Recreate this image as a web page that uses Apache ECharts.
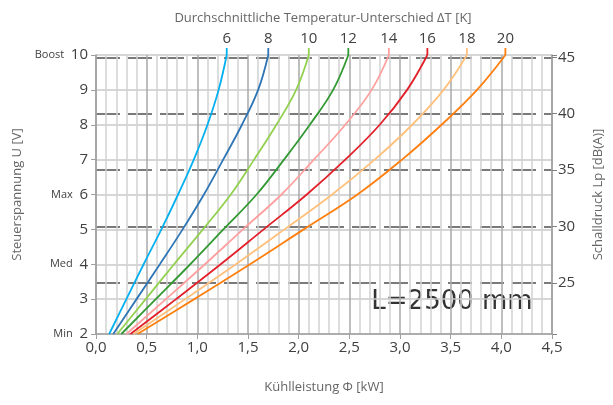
<!DOCTYPE html>
<html>
<head>
<meta charset="utf-8">
<script src="https://cdn.jsdelivr.net/npm/echarts@6/dist/echarts.min.js"></script>
<style>
    html, body {margin: 0; padding: 0; background: #fff;}
    #chart {width: 613px; height: 405px;}
</style>
</head>
<body>
<div id="chart"></div>
<script>
// Steuerspannung U [V] levels at which the curves are read
const uVals = [2, 3, 4, 5, 6, 7, 8, 9, 10];
const stubTop = 10.2;

// Kühlleistung Φ [kW] for each ΔT curve
const deltaT = ['6', '8', '10', '12', '14', '16', '18', '20'];
const phi6 = [0.13, 0.30, 0.47, 0.645, 0.81, 0.965, 1.10, 1.21, 1.29];
const phi8 = [0.17, 0.40, 0.63, 0.855, 1.065, 1.255, 1.44, 1.60, 1.70];
const phi10 = [0.21, 0.49, 0.77, 1.055, 1.33, 1.56, 1.78, 1.975, 2.10];
const phi12 = [0.25, 0.59, 0.93, 1.257, 1.585, 1.855, 2.11, 2.34, 2.49];
const phi14 = [0.30, 0.69, 1.075, 1.45, 1.83, 2.15, 2.46, 2.72, 2.89];
const phi16 = [0.34, 0.79, 1.23, 1.655, 2.08, 2.46, 2.80, 3.07, 3.27];
const phi18 = [0.37, 0.88, 1.38, 1.86, 2.33, 2.75, 3.12, 3.43, 3.66];
const phi20 = [0.41, 0.97, 1.52, 2.05, 2.58, 3.02, 3.41, 3.76, 4.04];
const curves = [phi6, phi8, phi10, phi12, phi14, phi16, phi18, phi20];
const colors = ['#00b0f0', '#2e75b6', '#92d050', '#339933', '#ff9f9f', '#e3202a', '#ffc07c', '#ff7f0e'];

// left axis tags
const tagValues = [2, 4, 6, 10];
const tagNames = ['Min', 'Med', 'Max', 'Boost'];

const chart = echarts.init(document.getElementById('chart'));

const seriesList = [];
curves.forEach((phi, i) => {
    const last = phi[phi.length - 1];
    seriesList.push({
        type: 'line',
        name: deltaT[i],
        data: uVals.map((u, k) => [phi[k], u]),
        smooth: 0.4,
        clip: false,
        showSymbol: false,
        lineStyle: {color: colors[i], width: 1.8},
        itemStyle: {color: colors[i]},
        silent: true,
        z: 5
    });
    // short vertical stub above the plot carrying the ΔT label
    seriesList.push({
        type: 'line',
        name: deltaT[i] + '_stub',
        data: [[last, 10], {
            value: [last, stubTop],
            label: {
                show: true,
                position: 'top',
                distance: 2,
                formatter: deltaT[i],
                color: '#404040',
                fontSize: 15,
                fontFamily: 'Open Sans'
            }
        }],
        clip: false,
        showSymbol: true,
        symbol: 'circle',
        symbolSize: 0.01,
        lineStyle: {color: colors[i], width: 1.8},
        itemStyle: {color: colors[i]},
        silent: true,
        z: 5
    });
});

const option = {
    animation: false,
    title: {
        text: 'Durchschnittliche Temperatur-Unterschied \u0394T [K]',
        left: 318,
        textAlign: 'center',
        top: 7,
        textStyle: {fontSize: 13, fontWeight: 'normal', color: '#666', fontFamily: 'Open Sans'}
    },
    grid: {left: 96, right: 61, top: 55, bottom: 71},
    xAxis: {
        type: 'value',
        min: 0,
        max: 4.5,
        interval: 0.5,
        name: 'Kühlleistung \u03a6 [kW]',
        nameLocation: 'middle',
        nameGap: 47,
        nameTextStyle: {fontSize: 13, color: '#666', fontFamily: 'Open Sans'},
        axisLine: {lineStyle: {color: '#a0a0a0', width: 1.5}},
        axisTick: {show: true, length: 5, lineStyle: {color: '#a0a0a0'}},
        axisLabel: {
            fontSize: 15, color: '#404040', fontFamily: 'Open Sans', margin: 6,
            formatter: v => v.toFixed(1).replace('.', ',')
        },
        splitLine: {show: true, lineStyle: {color: '#a8a8a8', width: 1.5}},
        minorTick: {show: false, splitNumber: 5},
        minorSplitLine: {show: true, lineStyle: {color: '#d2d2d2', width: 1.5}}
    },
    yAxis: [{
        type: 'value',
        min: 2,
        max: 10,
        interval: 1,
        name: 'Steuerspannung U [V]',
        nameLocation: 'middle',
        nameGap: 72,
        nameTextStyle: {fontSize: 13, color: '#666', fontFamily: 'Open Sans'},
        axisLine: {show: true, lineStyle: {color: '#a0a0a0', width: 1.5}},
        axisTick: {show: true, length: 5, lineStyle: {color: '#a0a0a0'}},
        axisLabel: {
            margin: 8,
            formatter: v => {
                const k = tagValues.indexOf(v);
                return (k >= 0 ? '{s|' + tagNames[k] + '}  ' : '') + '{n|' + v + '}';
            },
            rich: {
                s: {fontSize: 11, color: '#404040', fontFamily: 'Open Sans'},
                n: {fontSize: 15, color: '#404040', fontFamily: 'Open Sans'}
            }
        },
        splitLine: {show: true, lineStyle: {color: '#c8c8c8', width: 1.5}}
    }, {
        type: 'value',
        min: 20.5,
        max: 45.2,
        splitNumber: 5,
        position: 'right',
        name: 'Schalldruck Lp [dB(A)]',
        nameLocation: 'middle',
        nameGap: 40,
        nameTextStyle: {fontSize: 13, color: '#666', fontFamily: 'Open Sans'},
        axisLine: {show: true, lineStyle: {color: '#a0a0a0', width: 1.5}},
        axisTick: {show: true, length: 5, lineStyle: {color: '#808080'}},
        axisLabel: {
            fontSize: 15, color: '#404040', fontFamily: 'Open Sans', margin: 6,
            formatter: v => (Math.abs(v % 5) < 1e-6 ? String(v) : '')
        },
        splitLine: {
            show: true,
            showMinLine: false,
            showMaxLine: false,
            lineStyle: {color: '#7a7a7a', width: 2, type: [24, 8]}
        }
    }],
    graphic: [{
        type: 'group',
        z: 10,
        children: [{
            type: 'rect',
            shape: {x: 353, y: 287, width: 195, height: 31},
            style: {fill: '#fff'}
        }, {
            type: 'text',
            x: 452,
            y: 302,
            style: {
                text: 'L=2500 mm',
                fontSize: 26,
                fontFamily: 'DejaVu Sans',
                fill: '#333',
                align: 'center',
                verticalAlign: 'middle'
            }
        }]
    }],
    series: seriesList
};

chart.setOption(option);
</script>
</body>
</html>
